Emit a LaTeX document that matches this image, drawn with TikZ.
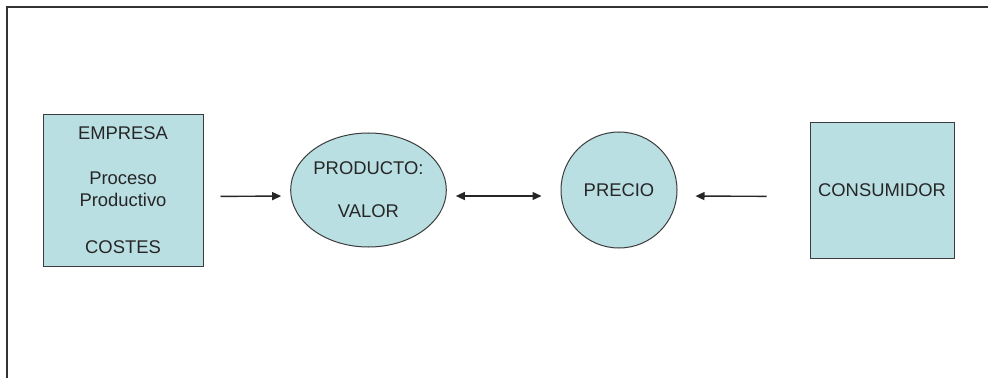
\documentclass[tikz,border=0pt]{standalone}
\usepackage{fontspec}
\setmainfont{Liberation Sans}
\usetikzlibrary{shapes.geometric,arrows.meta}
\definecolor{boxfill}{RGB}{186,223,227}
\definecolor{boxline}{RGB}{60,60,60}
\tikzset{
  x=1pt,y=1pt,
  shapebox/.style={draw=boxline,line width=1pt,fill=boxfill,inner sep=0pt,
    font=\fontsize{18.4}{22}\selectfont,text=black!85,align=center},
  conn/.style={line width=1.4pt,black!85,{Triangle[length=9pt,width=8pt]}-{Triangle[length=9pt,width=8pt]}},
  arr/.style={line width=1.4pt,black!85,-{Triangle[length=9pt,width=8pt]}},
  frame/.style={line width=1.8pt,black!80}
}
\begin{document}
\begin{tikzpicture}
\useasboundingbox (0,0) rectangle (988,378);
\fill[white] (0,0) rectangle (988,378);
% frame (top and left edges only)
\coordinate (ftl) at (7,371);
\coordinate (ftr) at (988,371);
\coordinate (fbl) at (7,0);
\draw[frame] (ftr) -- (ftl) -- (fbl);
% nodes
\node[shapebox,rectangle,minimum width=160,minimum height=151] (emp) at (123,187.5)
  {EMPRESA\\[23pt]Proceso\\Productivo\\[25pt]COSTES};
\node[shapebox,ellipse,minimum width=153,minimum height=114,
  font=\fontsize{18.4}{43}\selectfont] (prod) at (368.5,188) {PRODUCTO:\\VALOR};
\node[shapebox,circle,minimum size=116] (prec) at (619,188) {PRECIO};
\node[shapebox,rectangle,minimum width=144,minimum height=135] (cons) at (882,187.5) {CONSUMIDOR};
% connectors
\draw[arr,shorten <=17pt,shorten >=9pt] ([yshift=-6]emp.east) -- ([yshift=-6]prod.west);
\draw[conn,shorten <=9pt,shorten >=19pt] ([yshift=-6]prod.east) -- ([yshift=-6]prec.west);
\draw[arr,shorten <=43pt,shorten >=18pt] ([yshift=-6]cons.west) -- ([yshift=-6]prec.east);
\end{tikzpicture}
\end{document}
